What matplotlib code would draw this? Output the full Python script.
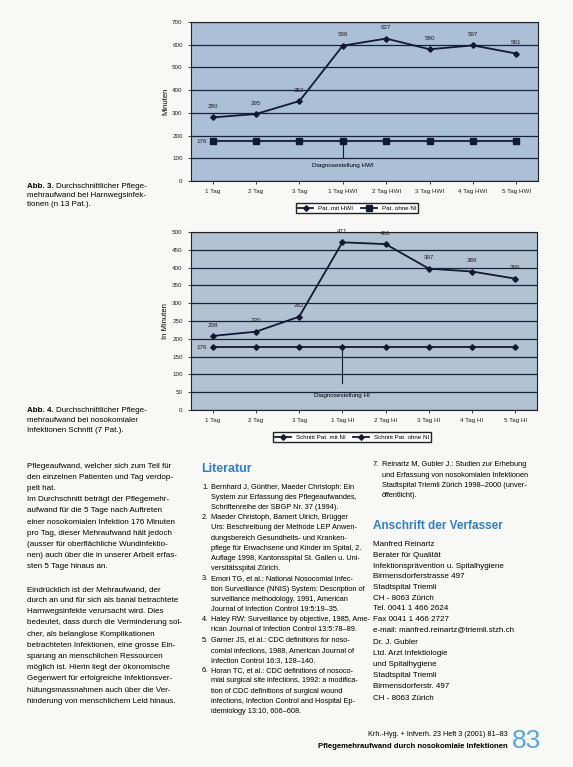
import matplotlib.pyplot as plt

plt.rcParams['font.family'] = ['Liberation Sans', 'DejaVu Sans']

# Abb. 3 - Harnwegsinfekte
tage_hwi = ['1 Tag', '2 Tag', '3 Tag', '1 Tag HWI', '2 Tag HWI',
            '3 Tag HWI', '4 Tag HWI', '5 Tag HWI']
pat_mit_hwi = [280, 295, 352, 596, 627, 580, 597, 561]
pat_ohne_ni_3 = [176, 176, 176, 176, 176, 176, 176, 176]

# Abb. 4 - nosokomiale Infektionen
tage_hi = ['1 Tag', '2 Tag', '3 Tag', '1 Tag HI', '2 Tag HI',
           '3 Tag HI', '4 Tag HI', '5 Tag HI']
schnitt_mit_ni = [208, 220, 262, 471, 466, 397, 389, 369]
schnitt_ohne_ni = [176, 176, 176, 176, 176, 176, 176, 176]

W, H = 573, 767
INK = '#121a33'
BLUE = '#2f80c8'


def fx(x):
    return x / W


def fy(y):
    return 1 - y / H


def chart(rect, labels, top, step, series, markers, bg):
    ax = fig.add_axes(rect)
    ax.set_facecolor(bg)
    x = list(range(len(labels)))
    lines = []
    for vals, (m, ms) in zip(series, markers):
        ln, = ax.plot(x, vals, color=INK, lw=1.3, marker=m, ms=ms, zorder=3)
        lines.append(ln)
    ax.set_xlim(-0.5, len(labels) - 0.5)
    ax.set_ylim(0, top)
    ax.set_yticks(range(0, top + 1, step))
    ax.set_xticks(x)
    ax.set_xticklabels(labels)
    ax.tick_params(labelsize=4.5, length=2, width=0.6, pad=4, colors='#222222')
    ax.yaxis.grid(True, color='#16233f', lw=0.9)
    ax.set_axisbelow(True)
    for s in ax.spines.values():
        s.set_color('#222222')
        s.set_linewidth(0.8)
    # Beschriftung
    main = series[0]
    for i, v in enumerate(main):
        ax.annotate(str(v), (i, v), xytext=(0, 6), textcoords='offset points',
                    ha='center', va='bottom', fontsize=4.5, color='#202020')
    ax.annotate(str(series[1][0]), (0, series[1][0]), xytext=(-4, 0),
                textcoords='offset points', ha='right', va='center',
                fontsize=4.5, color='#202020')
    return ax, lines


fig = plt.figure(figsize=(W / 100, H / 100), dpi=100)
fig.patch.set_facecolor('#f8f8f6')

# ---- Abb. 3 ----
ax1, l1 = chart([fx(191), fy(181), 347 / W, 159 / H], tage_hwi, 700, 100,
                [pat_mit_hwi, pat_ohne_ni_3], [('D', 2.8), ('s', 4.5)], '#abbfd7')
ax1.plot([3, 3], [176, 100], color=INK, lw=0.8)
ax1.text(3, 67, 'Diagnosestellung HWI', ha='center', va='center', fontsize=4.5)
ax1.set_ylabel('Minuten', fontsize=5.5, labelpad=2)
fig.legend(l1, ['Pat. mit HWI', 'Pat. ohne NI'], loc='center',
           bbox_to_anchor=(fx(357), fy(208)), ncol=2, fontsize=4.5,
           fancybox=False, edgecolor='#222222', handlelength=2.5,
           borderpad=0.3, columnspacing=1.2, framealpha=1)

# ---- Abb. 4 ----
ax2, l2 = chart([fx(191), fy(410), 346 / W, 178 / H], tage_hi, 500, 50,
                [schnitt_mit_ni, schnitt_ohne_ni], [('D', 2.8), ('D', 2.8)], '#b3c2d2')
ax2.plot([3, 3], [176, 76], color=INK, lw=0.8)
ax2.text(3, 40, 'Diagnosestellung HI', ha='center', va='center', fontsize=4.5)
ax2.set_ylabel('In Minuten', fontsize=5.5, labelpad=2)
fig.legend(l2, ['Schnitt Pat. mit NI', 'Schnitt Pat. ohne NI'], loc='center',
           bbox_to_anchor=(fx(352), fy(437)), ncol=2, fontsize=4.5,
           fancybox=False, edgecolor='#222222', handlelength=2.5,
           borderpad=0.3, columnspacing=1.2, framealpha=1)

# ---- Bildunterschriften ----
for y0, nr, rest in [(186, 'Abb. 3.', ['Durchschnittlicher Pflege-',
                                       'mehraufwand bei Harnwegsinfek-',
                                       'tionen (n 13 Pat.).']),
                     (411, 'Abb. 4.', ['Durchschnittlicher Pflege-',
                                       'mehraufwand bei nosokomialer',
                                       'Infektionen Schnitt (7 Pat.).'])]:
    fig.text(fx(27), fy(y0), nr, fontsize=5.8, weight='bold', va='center')
    fig.text(fx(56), fy(y0), rest[0], fontsize=5.8, va='center')
    for k, t in enumerate(rest[1:]):
        fig.text(fx(27), fy(y0 + 9.5 * (k + 1)), t, fontsize=5.8, va='center')

# ---- Spalte 1 ----
col1 = ['Pflegeaufwand, welcher sich zum Teil für',
        'den einzelnen Patienten und Tag verdop-',
        'pelt hat.',
        'Im Durchschnitt beträgt der Pflegemehr-',
        'aufwand für die 5 Tage nach Auftreten',
        'einer nosokomialen Infektion 176 Minuten',
        'pro Tag, dieser Mehraufwand hält jedoch',
        '(ausser für oberflächliche Wundinfektio-',
        'nen) auch über die in unserer Arbeit erfas-',
        'sten 5 Tage hinaus an.',
        '',
        'Eindrücklich ist der Mehraufwand, der',
        'durch an und für sich als banal betrachtete',
        'Harnwegsinfekte verursacht wird. Dies',
        'bedeutet, dass durch die Verminderung sol-',
        'cher, als belanglose Komplikationen',
        'betrachteten Infektionen, eine grosse Ein-',
        'sparung an menschlichen Ressourcen',
        'möglich ist. Hierin liegt der ökonomische',
        'Gegenwert für erfolgreiche Infektionsver-',
        'hütungsmassnahmen auch über die Ver-',
        'hinderung von menschlichem Leid hinaus.']
for k, t in enumerate(col1):
    fig.text(fx(27), fy(466 + 11.2 * k), t, fontsize=5.8, va='center')

# ---- Spalte 2 ----
fig.text(fx(201), fy(469), 'Literatur', fontsize=9, weight='bold',
         color=BLUE, va='center')
refs = [('1.', ['Bernhard J, Günther, Maeder Christoph: Ein',
                'System zur Erfassung des Pflegeaufwandes,',
                'Schriftenreihe der SBGP Nr. 37 (1994).']),
        ('2.', ['Maeder Christoph, Bamert Ulrich, Brügger',
                'Urs: Beschreibung der Methode LEP Anwen-',
                'dungsbereich Gesundheits- und Kranken-',
                'pflege für Erwachsene und Kinder im Spital, 2.',
                'Auflage 1998, Kantonsspital St. Gallen u. Uni-',
                'versitätsspital Zürich.']),
        ('3.', ['Emori TG, et al.: National Nosocomial Infec-',
                'tion Surveillance (NNIS) System: Description of',
                'surveillance methodology, 1991, American',
                'Journal of Infection Control 19:5:19–35.']),
        ('4.', ['Haley RW: Surveillance by objective, 1985, Ame-',
                'rican Journal of Infection Control 13:5:78–89.']),
        ('5.', ['Garner JS, et al.: CDC definitions for noso-',
                'comial infections, 1988, American Journal of',
                'Infection Control 16:3, 128–140.']),
        ('6.', ['Horan TC, et al.: CDC definitions of nosoco-',
                'mial surgical site infections, 1992: a modifica-',
                'tion of CDC definitions of surgical wound',
                'infections, Infection Control and Hospital Ep-',
                'idemiology 13:10, 606–608.'])]
y = 487
for nr, lines in refs:
    fig.text(fx(202), fy(y), nr, fontsize=5.3, va='center')
    for t in lines:
        fig.text(fx(211), fy(y), t, fontsize=5.3, va='center')
        y += 10.2

# ---- Spalte 3 ----
ref7 = ['Reinartz M, Gubler J.: Studien zur Erhebung',
        'und Erfassung von nosokomialen Infektionen',
        'Stadtspital Triemli Zürich 1998–2000 (unver-',
        'öffentlicht).']
fig.text(fx(373), fy(465), '7.', fontsize=5.3, va='center')
for k, t in enumerate(ref7):
    fig.text(fx(382), fy(465 + 10.2 * k), t, fontsize=5.3, va='center')

fig.text(fx(373), fy(526), 'Anschrift der Verfasser', fontsize=8.5,
         weight='bold', color=BLUE, va='center')
addr1 = ['Manfred Reinartz', 'Berater für Qualität',
         'Infektionsprävention u. Spitalhygiene', 'Birmensdorferstrasse 497',
         'Stadtspital Triemli', 'CH - 8063 Zürich', 'Tel. 0041 1 466 2624',
         'Fax 0041 1 466 2727', 'e-mail: manfred.reinartz@triemli.stzh.ch']
for k, t in enumerate(addr1):
    fig.text(fx(373), fy(545 + 10.6 * k), t, fontsize=5.8, va='center')
addr2 = ['Dr. J. Gubler', 'Ltd. Arzt Infektiologie', 'und Spitalhygiene',
         'Stadtspital Triemli', 'Birmensdorferstr. 497', 'CH - 8063 Zürich']
for k, t in enumerate(addr2):
    fig.text(fx(373), fy(642 + 11.2 * k), t, fontsize=5.8, va='center')

# ---- Fusszeile ----
fig.text(fx(508), fy(735), 'Krh.-Hyg. + Infverh. 23 Heft 3 (2001) 81–83',
         ha='right', va='center', fontsize=5.2)
fig.text(fx(508), fy(746), 'Pflegemehraufwand durch nosokomiale Infektionen',
         ha='right', va='center', fontsize=5.6, weight='bold')
fig.text(fx(512), fy(741), '83', ha='left', va='center', fontsize=19,
         color='#5aa6dc')

fig.savefig('out.png', dpi=100)
